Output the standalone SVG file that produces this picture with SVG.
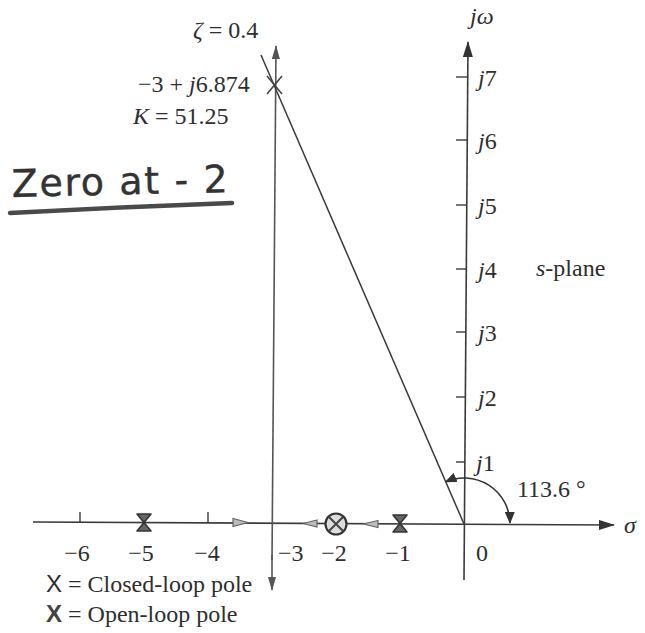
<svg xmlns="http://www.w3.org/2000/svg" width="645" height="633" viewBox="0 0 645 633">
<style>
text{font-family:"Liberation Serif","Times New Roman",serif;fill:#2e2e2e;font-size:24px}
.it{font-style:italic}
.m{text-anchor:middle}
.ax{stroke:#3a3a3a;stroke-width:1.6;fill:none}
.tick{stroke:#3a3a3a;stroke-width:1.4}
.br{stroke:#555;stroke-width:1.6;fill:none}
.oa{fill:#bbb;stroke:#666;stroke-width:1.2}
.hand{font-family:"DejaVu Sans",sans-serif;font-size:38px;fill:#333;stroke:#333;stroke-width:0.4}
.sx{font-family:"Liberation Sans",Arial,sans-serif}
</style>
<defs>
<marker id="af" viewBox="0 0 16 10" refX="15" refY="5" markerWidth="16" markerHeight="10" markerUnits="userSpaceOnUse" orient="auto">
<path d="M0,0 L16,5 L0,10 Z" fill="#333"/>
</marker>
<marker id="an" viewBox="0 0 14 8" refX="13" refY="4" markerWidth="14" markerHeight="8" markerUnits="userSpaceOnUse" orient="auto">
<path d="M0,0 L14,4 L0,8 Z" fill="#555"/>
</marker>
<marker id="aa" viewBox="0 0 12 10" refX="11" refY="5" markerWidth="12" markerHeight="10" markerUnits="userSpaceOnUse" orient="auto-start-reverse">
<path d="M0,0 L12,5 L0,10 Z" fill="#333"/>
</marker>
</defs>
<rect width="645" height="633" fill="#fff"/>

<!-- handwritten note -->
<g id="note">
<text class="hand" x="12" y="197" textLength="216" lengthAdjust="spacing" transform="rotate(-1.3 12 197)">Zero at - 2</text>
<path d="M10,213 Q120,207 232,203" stroke="#4a4a4a" stroke-width="4.5" fill="none" stroke-linecap="round"/>
</g>

<!-- axes -->
<g id="axes">
<line class="ax" x1="33" y1="522" x2="614" y2="525" marker-end="url(#af)"/>
<line class="ax" x1="464" y1="580" x2="468" y2="42" marker-end="url(#af)"/>
<g class="tick">
<line x1="456" y1="77" x2="467" y2="77"/>
<line x1="456" y1="140" x2="467" y2="140"/>
<line x1="456" y1="205" x2="466" y2="205"/>
<line x1="456" y1="269" x2="466" y2="269"/>
<line x1="456" y1="332" x2="466" y2="332"/>
<line x1="456" y1="397" x2="465" y2="397"/>
<line x1="456" y1="462" x2="465" y2="462"/>
<line x1="80" y1="512" x2="80" y2="522"/>
<line x1="208" y1="512" x2="208" y2="523"/>
</g>
<text class="it" x="470" y="24">jω</text>
<text x="624" y="533" class="it">σ</text>
<text x="478" y="86"><tspan class="it">j</tspan>7</text>
<text x="478" y="149"><tspan class="it">j</tspan>6</text>
<text x="478" y="214"><tspan class="it">j</tspan>5</text>
<text x="478" y="278"><tspan class="it">j</tspan>4</text>
<text x="478" y="341"><tspan class="it">j</tspan>3</text>
<text x="478" y="406"><tspan class="it">j</tspan>2</text>
<text x="476" y="471"><tspan class="it">j</tspan>1</text>
<text x="536" y="276"><tspan class="it">s</tspan>-plane</text>
<text class="m" x="77" y="561">−6</text>
<text class="m" x="141" y="561">−5</text>
<text class="m" x="207" y="561">−4</text>
<text x="278" y="561">−3</text>
<text class="m" x="334" y="561">−2</text>
<text class="m" x="398" y="561">−1</text>
<text x="476" y="561">0</text>
</g>

<!-- connectors: root locus branches, damping line, angle -->
<g id="connectors">
<line class="br" x1="272" y1="560" x2="276" y2="46" marker-end="url(#an)"/>
<line class="br" x1="272" y1="555" x2="272" y2="590" marker-end="url(#an)"/>
<line x1="261" y1="55" x2="464" y2="524" stroke="#3a3a3a" stroke-width="1.5"/>
<path d="M445.6,481.8 A46 46 0 0 1 510,523" fill="none" stroke="#333" stroke-width="1.5" marker-start="url(#aa)" marker-end="url(#aa)"/>
<polygon class="oa" points="233,518.5 248,522.5 233,526.5"/>
<polygon class="oa" points="317,520 303,523.5 317,527"/>
<polygon class="oa" points="378,520.5 363,524 378,527.5"/>
</g>

<!-- nodes -->
<g id="pole-m5">
<path d="M137,514 L151,514 L137,531 L151,531 Z" fill="#666" stroke="#333" stroke-width="1.6" stroke-linejoin="round"/>
</g>
<g id="zero-m2">
<circle cx="336" cy="524" r="10.5" fill="#ddd" stroke="#333" stroke-width="2.2"/>
<path d="M329,517 L343,531 M343,517 L329,531" stroke="#444" stroke-width="2"/>
</g>
<g id="pole-m1">
<path d="M393,515 L407,515 L393,532 L407,532 Z" fill="#666" stroke="#333" stroke-width="1.6" stroke-linejoin="round"/>
</g>
<g id="cl-pole">
<path d="M267,76 L282,94 M282,76 L267,94" stroke="#444" stroke-width="1.6"/>
</g>

<!-- labels -->
<g id="labels">
<text x="193" y="38"><tspan class="it">ζ</tspan> = 0.4</text>
<text x="138" y="92">−3 + <tspan class="it">j</tspan>6.874</text>
<text x="133" y="124"><tspan class="it">K</tspan> = 51.25</text>
<text x="517" y="497">113.6 °</text>
<text x="46" y="592"><tspan class="sx">X</tspan> = Closed-loop pole</text>
<text x="46" y="622"><tspan class="sx" style="font-weight:bold;fill:#444">X</tspan> = Open-loop pole</text>
</g>
</svg>
